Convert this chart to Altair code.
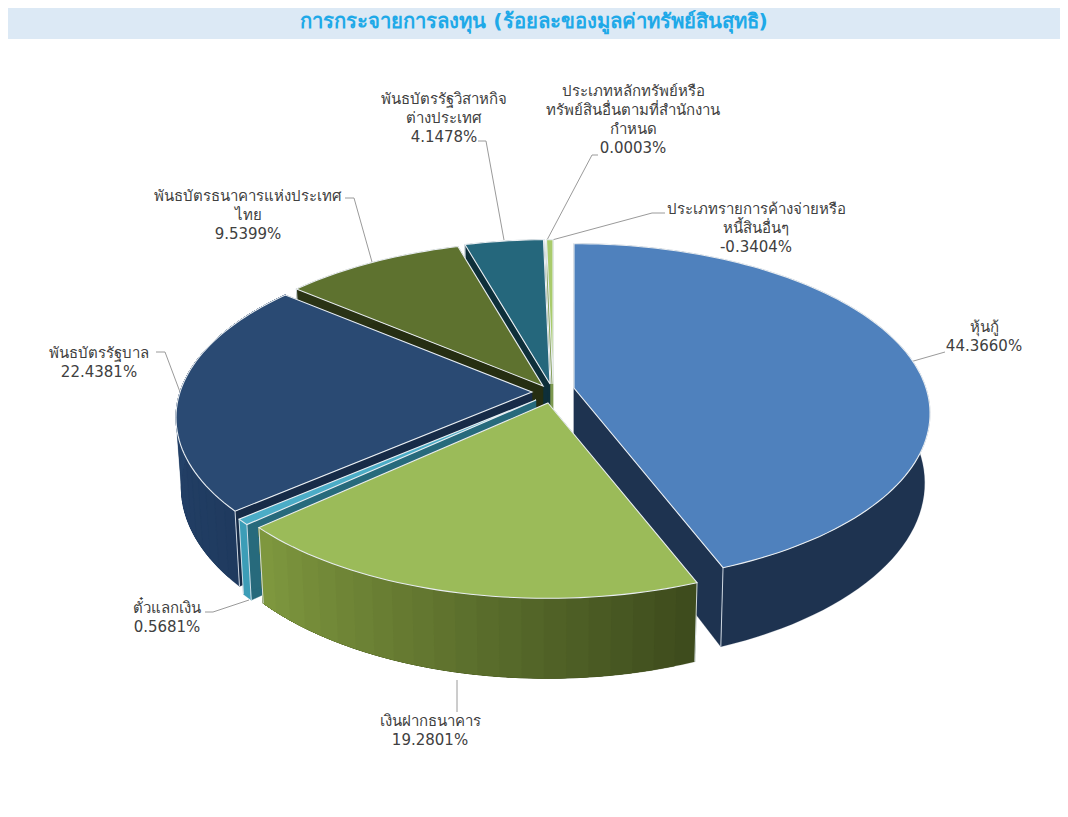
import math
import altair as alt

TITLE = "การกระจายการลงทุน (ร้อยละของมูลค่าทรัพย์สินสุทธิ)"
NAMES = ["หุ้นกู้", "เงินฝากธนาคาร", "ตั๋วแลกเงิน", "พันธบัตรรัฐบาล",
         "พันธบัตรธนาคารแห่งประเทศ\nไทย", "พันธบัตรรัฐวิสาหกิจ\nต่างประเทศ",
         "ประเภทหลักทรัพย์หรือ\nทรัพย์สินอื่นตามที่สำนักงาน\nกำหนด",
         "ประเภทรายการค้างจ่ายหรือ\nหนี้สินอื่นๆ"]
VALUES = [44.3660, 19.2801, 0.5681, 22.4381, 9.5399, 4.1478, 0.0003, -0.3404]

# styling and layout, one entry per slice (page pixels)
FACE = ["#4F81BD", "#9BBB59", "#4BACC6", "#2A4A73", "#5E722F", "#25677C", "#C9DDA8", "#A9CB6C"]
RIM_A = ["#1E3350", "#3C4A1C", "#3C9DB7", "#1F3A5F", "#2A3315", "#0E2F3A", "#7F9A50", "#7F9A50"]
RIM_B = ["#1E3350", "#80993F", "#3C9DB7", "#2A4A73", "#2A3315", "#0E2F3A", "#7F9A50", "#7F9A50"]
EDGE = ["#1E3350", "#4A5A24", "#276A7C", "#172B47", "#262E12", "#0E2F3A", "#7F9A50", "#7F9A50"]
APEX = [(574, 388), (548, 403), (536, 400), (532, 392), (543, 386), (550, 384), (551, 384), (553, 384)]
DRAW_ORDER = [7, 6, 5, 4, 3, 0, 2, 1]
LABEL_XY = [(984, 320), (430, 714), (167, 601), (99, 346), (248, 189), (444, 92), (633, 84), (756, 202)]
LEADERS = [
    [(945, 352), (910, 362)],
    [(457, 680), (457, 712)],
    [(205, 612), (213, 612), (249, 600)],
    [(156, 352), (165, 352), (180, 392)],
    [(345, 198), (354, 198), (372, 262)],
    [(478, 141), (486, 141), (504, 240)],
    [(598, 155), (592, 155), (547, 240)],
    [(665, 213), (652, 213), (552, 240)],
]

OX, OY = 8, 8
A, B, K, DEPTH, SHRINK = 352.0, 166.0, 0.15, 68.0, 0.985


def top(i, deg):
    u, v = math.sin(math.radians(deg)), math.cos(math.radians(deg))
    s = 1 + K * v
    return (APEX[i][0] + A * u / s - OX, APEX[i][1] - B * v / s - OY)


def bottom(i, deg):
    u, v = math.sin(math.radians(deg)), math.cos(math.radians(deg))
    s = 1 + K * v
    return (APEX[i][0] + SHRINK * A * u / s - OX, APEX[i][1] + (DEPTH - B * v) / s - OY)


def mix(c1, c2, t):
    a = [int(c1[j:j + 2], 16) for j in (1, 3, 5)]
    b = [int(c2[j:j + 2], 16) for j in (1, 3, 5)]
    return "#%02x%02x%02x" % tuple(round(x + (y - x) * t) for x, y in zip(a, b))


def poly(points, fill, stroke, width):
    ring = [list(p) for p in points] + [list(points[0])]
    return {"type": "Feature", "geometry": {"type": "Polygon", "coordinates": [ring]},
            "properties": {"fill": fill, "stroke": stroke, "sw": width}}


def line(points, stroke, width):
    return {"type": "Feature",
            "geometry": {"type": "LineString", "coordinates": [list(p) for p in points]},
            "properties": {"fill": "none", "stroke": stroke, "sw": width}}


# Excel sizes the slices by the absolute values
total = sum(abs(v) for v in VALUES)
starts = []
acc = 0.0
for v in VALUES:
    starts.append(acc)
    acc += abs(v) / total * 360

features = []
for i in DRAW_ORDER:
    a0 = starts[i]
    a1 = a0 + abs(VALUES[i]) / total * 360
    ax, ay = APEX[i][0] - OX, APEX[i][1] - OY
    apex_low = (ax, ay + DEPTH)
    for ang in (a0, a1):
        features.append(poly([(ax, ay), top(i, ang), bottom(i, ang), apex_low], EDGE[i], EDGE[i], 0.3))
    # rim: flat slices get one wall, shaded slices overlapping bands that overpaint each other
    n = 1 if RIM_A[i] == RIM_B[i] else max(1, int((a1 - a0) / 3))
    for k in range(n):
        d0 = a0 + (a1 - a0) * k / n
        col = mix(RIM_A[i], RIM_B[i], (k + 0.5) / n)
        steps = max(1, int((a1 - d0) / 2))
        angs = [d0 + (a1 - d0) * s / steps for s in range(steps + 1)]
        pts = [top(i, d) for d in angs] + [bottom(i, d) for d in reversed(angs)]
        features.append(poly(pts, col, col, 0.2))
    for ang in (a0, a1):
        features.append(line([top(i, ang), bottom(i, ang)], "#dfe6ee", 0.9))
    m = max(1, int((a1 - a0) / 1.5))
    arc = [top(i, a0 + (a1 - a0) * k / m) for k in range(m + 1)]
    features.append(poly([(ax, ay)] + arc, FACE[i], "#e9eef2", 1.1))

leaders = [line([(x - OX, y - OY) for x, y in seg], "#9a9a9a", 1) for seg in LEADERS]

labels = [{"text": f"{n}\n{v:.4f}%", "x": x - OX, "y": y - OY}
          for n, v, (x, y) in zip(NAMES, VALUES, LABEL_XY)]

band = alt.Chart(alt.Data(values=[{"a": 1}])).mark_rect(color="#DCE9F5").encode(
    x=alt.value(0), x2=alt.value(1052), y=alt.value(0), y2=alt.value(31))

title = alt.Chart(alt.Data(values=[{"t": TITLE}])).mark_text(
    font="DejaVu Sans", fontSize=20.3, fontWeight="bold", color="#1FA9E8",
    align="center", baseline="middle").encode(
    x=alt.value(526), y=alt.value(14), text="t:N")

pie = alt.Chart(alt.Data(values=features)).mark_geoshape().encode(
    fill=alt.Fill("properties.fill:N", scale=None, legend=None),
    stroke=alt.Stroke("properties.stroke:N", scale=None, legend=None),
    strokeWidth=alt.StrokeWidth("properties.sw:Q", scale=None, legend=None),
).project(type="identity", scale=1, translate=[0, 0])

lead = alt.Chart(alt.Data(values=leaders)).mark_geoshape(
    filled=False, stroke="#9a9a9a", strokeWidth=1
).project(type="identity", scale=1, translate=[0, 0])

text = alt.Chart(alt.Data(values=labels)).mark_text(
    font="DejaVu Sans", fontSize=15, color="#404040", align="center", baseline="top",
    lineBreak="\n", lineHeight=19).encode(
    x=alt.X("x:Q", scale=None, axis=None),
    y=alt.Y("y:Q", scale=None, axis=None),
    text="text:N")

chart = alt.layer(band, title, lead, pie, text).properties(
    width=1052, height=800, padding=0,
    autosize=alt.AutoSizeParams(type="none"),
    background="white",
).configure_view(stroke=None)

chart.save("out.html", embed_options={"renderer": "svg", "actions": False})
